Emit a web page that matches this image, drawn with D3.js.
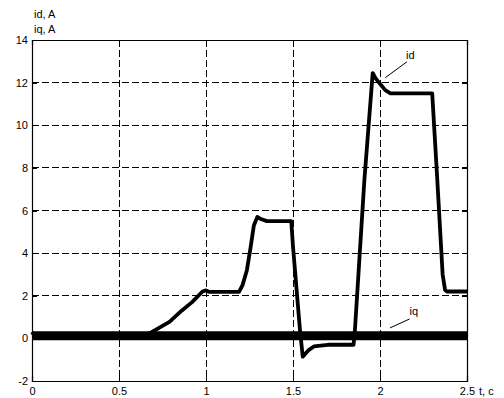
<!DOCTYPE html>
<html>
<head>
<meta charset="utf-8">
<script src="https://cdnjs.cloudflare.com/ajax/libs/d3/7.8.5/d3.min.js"></script>
<style>
body{margin:0;background:#fff;}
text{font-family:"Liberation Sans",Arial,sans-serif;font-size:11px;fill:#000;}
</style>
</head>
<body>
<script>
/* data */
var xTicks = [0, 0.5, 1, 1.5, 2, 2.5];
var yTicks = [-2, 0, 2, 4, 6, 8, 10, 12, 14];

var idT = [0, 0.02, 0.6, 0.65, 0.7, 0.79, 0.86, 0.92, 0.98, 1.0, 1.02, 1.19, 1.21, 1.235, 1.255, 1.275, 1.295, 1.315, 1.35, 1.49, 1.5, 1.54, 1.556, 1.59, 1.62, 1.7, 1.848, 1.856, 1.91, 1.958, 1.975, 2.0, 2.03, 2.06, 2.3, 2.326, 2.36, 2.374, 2.385, 2.5];
var idV = [0.3, 0.05, 0.05, 0.12, 0.35, 0.77, 1.3, 1.7, 2.2, 2.25, 2.18, 2.18, 2.5, 3.2, 4.2, 5.3, 5.7, 5.6, 5.5, 5.5, 4.3, 0.4, -0.86, -0.55, -0.38, -0.3, -0.3, 0.4, 7.4, 12.45, 12.2, 11.95, 11.65, 11.5, 11.5, 7.9, 3.0, 2.27, 2.2, 2.2];

var iqT = [0, 0.5, 1, 1.5, 2, 2.5];
var iqV = [0.12, 0.12, 0.12, 0.12, 0.12, 0.12];

var labels = ["id", "iq"];
var labelPos = [[2.15, 13.1], [2.17, 1.1]];
var leaders = [[[2.03, 12.23], [2.155, 12.98]], [[2.057, 0.49], [2.17, 0.91]]];

var W = 504, H = 398;
/* plot box (window.top is reserved, so use other names) */
var pL = 32, pT = 40, pR = 467, pB = 381;

var svg = d3.select("body").append("svg")
	.attr("width", W).attr("height", H);

var x = d3.scaleLinear().domain([0, 2.5]).range([pL, pR]);
var y = d3.scaleLinear().domain([-2, 14]).range([pB, pT]);

/* dashed grid */
svg.append("g").selectAll("line").data(xTicks.slice(1, -1)).enter().append("line")
	.attr("x1", d => x(d)).attr("x2", d => x(d))
	.attr("y1", pT).attr("y2", pB)
	.attr("stroke", "#000").attr("stroke-width", 1).attr("stroke-dasharray", "7,3")
	.attr("shape-rendering", "crispEdges");
svg.append("g").selectAll("line").data(yTicks.slice(1, -1)).enter().append("line")
	.attr("y1", d => y(d)).attr("y2", d => y(d))
	.attr("x1", pL).attr("x2", pR)
	.attr("stroke", "#000").attr("stroke-width", 1).attr("stroke-dasharray", "7,3")
	.attr("shape-rendering", "crispEdges");

/* curves */
var line = d3.line().x(d => x(d[0])).y(d => y(d[1]));

svg.append("path")
	.datum(iqT.map((t, i) => [t, iqV[i]]))
	.attr("d", line).attr("fill", "none")
	.attr("stroke", "#000").attr("stroke-width", 9);

svg.append("path")
	.datum(idT.map((t, i) => [t, idV[i]]))
	.attr("d", line).attr("fill", "none")
	.attr("stroke", "#000").attr("stroke-width", 3.8)
	.attr("stroke-linejoin", "round");

/* axes, ticks pointing inward */
var fmt = d => String(d);
svg.append("g").attr("transform", "translate(0," + pB + ")")
	.call(d3.axisBottom(x).tickValues(xTicks).tickFormat(fmt).tickSize(-5).tickPadding(6));
svg.append("g").attr("transform", "translate(" + pL + ",0)")
	.call(d3.axisLeft(y).tickValues(yTicks).tickFormat(fmt).tickSize(-5).tickPadding(4));
svg.append("g").attr("transform", "translate(0," + pT + ")")
	.call(d3.axisTop(x).tickValues(xTicks).tickFormat("").tickSize(-5));
svg.append("g").attr("transform", "translate(" + pR + ",0)")
	.call(d3.axisRight(y).tickValues(yTicks).tickFormat("").tickSize(-5));

svg.selectAll(".domain").attr("stroke", "#000").attr("stroke-width", 1.2);
svg.selectAll(".tick line").attr("stroke", "#000").attr("shape-rendering", "crispEdges");
svg.selectAll(".tick text").attr("font-size", 11).attr("font-family", "Liberation Sans, Arial, sans-serif").attr("fill", "#000");

/* axis titles */
svg.append("text").attr("x", pL + 2).attr("y", 18).text("id, A");
svg.append("text").attr("x", pL + 2).attr("y", 33).text("iq, A");
svg.append("text").attr("x", pR + 12).attr("y", 395).text("t, c");

/* curve annotations */
labels.forEach(function(l, i){
	svg.append("text").attr("x", x(labelPos[i][0])).attr("y", y(labelPos[i][1])).text(l);
	svg.append("line")
		.attr("x1", x(leaders[i][0][0])).attr("y1", y(leaders[i][0][1]))
		.attr("x2", x(leaders[i][1][0])).attr("y2", y(leaders[i][1][1]))
		.attr("stroke", "#000").attr("stroke-width", 1);
});
</script>
</body>
</html>
